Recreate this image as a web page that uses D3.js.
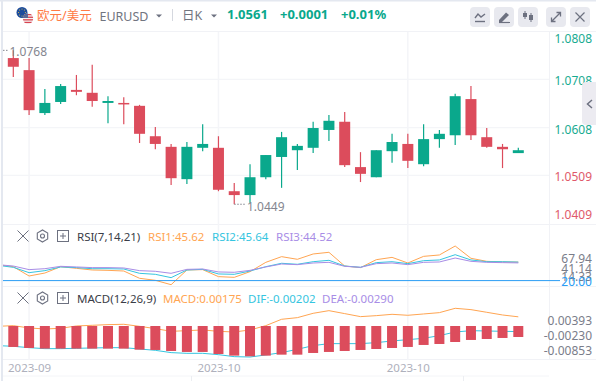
<!DOCTYPE html>
<html>
<head>
<meta charset="utf-8">
<script src="https://cdn.jsdelivr.net/npm/d3@7"></script>
<style>
  html, body { margin: 0; padding: 0; background: #fff; overflow: hidden; }
  text { font-family: "Noto Sans", "Noto Sans CJK SC", sans-serif; }
</style>
</head>
<body>
<div id="chart"></div>
<script>
// daily candles
const open  = [1.0752,1.0727,1.0638,1.0661,1.0686,1.0680,1.0659,1.0659,1.0653,1.0590,1.0568,1.0501,1.0566,1.0566,1.0476,1.0468,1.0505,1.0547,1.0561,1.0566,1.0603,1.0620,1.0526,1.0505,1.0559,1.0574,1.0532,1.0584,1.0592,1.0667,1.0588,1.0568,1.0555];
const close = [1.0734,1.0644,1.0659,1.0694,1.0682,1.0663,1.0663,1.0657,1.0595,1.0574,1.0503,1.0568,1.0574,1.0479,1.0468,1.0505,1.0551,1.0588,1.0570,1.0607,1.0622,1.0530,1.0512,1.0561,1.0578,1.0539,1.0584,1.0595,1.0673,1.0592,1.0568,1.0563,1.0561];
const high  = [1.0768,1.0752,1.0688,1.0698,1.0717,1.0738,1.0673,1.0671,1.0655,1.0609,1.0574,1.0578,1.0615,1.0590,1.0493,1.0532,1.0551,1.0599,1.0574,1.0620,1.0634,1.0640,1.0557,1.0561,1.0595,1.0595,1.0615,1.0603,1.0678,1.0694,1.0607,1.0574,1.0566];
const low   = [1.0713,1.0634,1.0634,1.0657,1.0675,1.0651,1.0617,1.0615,1.0576,1.0563,1.0489,1.0491,1.0559,1.0476,1.0449,1.0452,1.0501,1.0483,1.0520,1.0555,1.0580,1.0526,1.0495,1.0505,1.0535,1.0524,1.0528,1.0566,1.0572,1.0582,1.0566,1.0524,1.0555];

// indicators start one candle earlier (off the left edge)
const rsi1 = [42.1,39.3,26.4,30.5,39.3,37.0,34.7,34.2,33.3,23.2,20.4,14.33,34.7,35.2,25.5,24.5,32.4,45.3,53.2,49.5,56.9,59.2,40.2,38.0,49.0,52.2,44.4,53.6,55.5,67.94,50.9,46.7,45.8,45.62];
const rsi2 = [41.2,38.4,31.0,33.8,38.9,38.0,36.5,36.5,36.1,30.1,28.7,24.1,34.7,35.6,29.2,28.7,33.3,39.3,44.0,42.6,46.2,48.1,40.2,38.4,44.9,46.2,43.5,47.6,48.6,55.9,48.6,46.2,46.2,45.64];
const rsi3 = [42.1,40.2,35.2,36.5,39.8,38.9,38.0,38.0,37.5,33.8,32.9,30.1,35.6,36.1,32.0,31.5,34.2,38.9,43.0,42.1,44.4,45.3,39.8,38.4,43.5,44.4,42.1,45.3,45.8,51.3,46.7,45.3,44.9,44.52];
const macdLine = [-0.00068,-0.00051,-0.00110,-0.00136,-0.00119,-0.00059,-0.00042,-0.00025,-0.00016,-0.00068,-0.00127,-0.00196,-0.00179,-0.00161,-0.00196,-0.00213,-0.00161,-0.00051,0.00112,0.00154,0.00265,0.00333,0.00257,0.00180,0.00205,0.00239,0.00214,0.00248,0.00282,0.00393,0.00359,0.00291,0.00222,0.00175];
const difLine  = [-0.00562,-0.00579,-0.00614,-0.00639,-0.00639,-0.00631,-0.00622,-0.00614,-0.00614,-0.00648,-0.00682,-0.00741,-0.00759,-0.00759,-0.00793,-0.00844,-0.00853,-0.00801,-0.00741,-0.00656,-0.00562,-0.00511,-0.00511,-0.00511,-0.00486,-0.00443,-0.00409,-0.00375,-0.00306,-0.00213,-0.00179,-0.00187,-0.00196,-0.00202];
// bars hang from the pane's baseline, one per candle
const macdBars = [-0.00596,-0.00622,-0.00639,-0.00639,-0.00639,-0.00639,-0.00639,-0.00639,-0.00665,-0.00673,-0.00699,-0.00724,-0.00724,-0.00776,-0.00818,-0.00835,-0.00818,-0.00793,-0.00793,-0.00750,-0.00724,-0.00699,-0.00673,-0.00648,-0.00622,-0.00596,-0.00545,-0.00520,-0.00469,-0.00417,-0.00392,-0.00366,-0.00341];
const macdBase = -0.0006;

const priceTicks = [1.0808,1.0708,1.0608,1.0509,1.0409];
const rsiTicks = ["67.94","41.14","14.33","20.00"];
const macdTicks = ["0.00393","-0.00230","-0.00853"];
const dateTicks = [{i: 1, label: "2023-09"}, {i: 13, label: "2023-10"}, {i: 25, label: "2023-10"}];

const UP = "#0aa88c", DOWN = "#dc4c5c";
const ORANGE = "#ffa552", CYAN = "#35c5e0", PURPLE = "#a88de6", BLUE = "#2a9df4";
const GRID = "#f4f5f8", GREY = "#7a7d8a", ICON = "#6d7180";

const W = 596, H = 381;
const svg = d3.select("#chart").append("svg").attr("width", W).attr("height", H).style("display", "block");

// scales
const x = d3.scaleLinear().domain([0, 32]).range([13.3, 518.3]);
const yPrice = d3.scaleLinear().domain([1.0509, 1.0708]).range([175.3, 79.3]);
const yRsi = d3.scaleLinear().domain([14.33, 67.94]).range([284.7, 246]);
const yMacd = d3.scaleLinear().domain([-0.00853, 0.00393]).range([357, 308.3]);

// frame and grid
svg.append("rect").attr("x", 0).attr("y", 0).attr("width", W).attr("height", 1.5).attr("fill", "#e4e8f0");
svg.append("rect").attr("x", 1).attr("y", 0).attr("width", 2).attr("height", H).attr("fill", "#e4e8f0");
[31.5, 224.5, 286.5, 359.5].forEach(y => {
  svg.append("line").attr("x1", 3).attr("x2", W).attr("y1", y).attr("y2", y).attr("stroke", "#f1f2f6");
});
svg.append("line").attr("x1", 3).attr("x2", 549).attr("y1", 376).attr("y2", 376).attr("stroke", "#f4f5f8");
svg.append("line").attr("x1", 549.5).attr("x2", 549.5).attr("y1", 32).attr("y2", 360).attr("stroke", "#f1f2f6");
svg.append("g").selectAll("line").data(dateTicks).join("line")
  .attr("x1", d => x(d.i)).attr("x2", d => x(d.i)).attr("y1", 32).attr("y2", 360)
  .attr("stroke", GRID).attr("stroke-width", 1.5);
svg.append("g").selectAll("line").data([1.0708, 1.0608, 1.0509]).join("line")
  .attr("x1", 3).attr("x2", 549).attr("y1", d => yPrice(d)).attr("y2", d => yPrice(d))
  .attr("stroke", GRID).attr("stroke-width", 1.2);

// toolbar
const eu = svg.append("g");
eu.append("circle").attr("cx", 22).attr("cy", 12.5).attr("r", 5.5).attr("fill", "#1d4c9c");
d3.range(8).forEach(k => {
  eu.append("circle").attr("cx", 22 + 3.4 * Math.cos(k * Math.PI / 4)).attr("cy", 12.5 + 3.4 * Math.sin(k * Math.PI / 4)).attr("r", 0.5).attr("fill", "#f5d142");
});
svg.append("clipPath").attr("id", "us").append("circle").attr("cx", 28).attr("cy", 18.5).attr("r", 5.2);
const us = svg.append("g").attr("clip-path", "url(#us)");
us.append("rect").attr("x", 22).attr("y", 13).attr("width", 12).attr("height", 11).attr("fill", "#f4f4f4");
d3.range(4).forEach(k => {
  us.append("rect").attr("x", 22).attr("y", 14 + k * 2.6).attr("width", 12).attr("height", 1.3).attr("fill", "#d8434f");
});
us.append("rect").attr("x", 22).attr("y", 13).attr("width", 6).attr("height", 5).attr("fill", "#5a6a96");

function label(txt, px, py, color, size, weight, anchor) {
  return svg.append("text").attr("x", px).attr("y", py).attr("fill", color)
    .attr("font-size", size).attr("font-weight", weight || 400)
    .attr("text-anchor", anchor || "start").text(txt);
}
function caret(cx, cy) {
  svg.append("path").attr("d", `M${cx - 3},${cy - 1.5}L${cx + 3},${cy - 1.5}L${cx},${cy + 1.5}Z`).attr("fill", ICON);
}

label("欧元/美元", 37, 19.5, "#ff7a45", 12.5);
label("EURUSD", 99.5, 20.5, "#71757f", 12.5);
caret(159, 16);
svg.append("line").attr("x1", 172.5).attr("x2", 172.5).attr("y1", 9).attr("y2", 21).attr("stroke", "#d5d8df");
label("日K", 182, 19.5, "#71757f", 12.5);
caret(214, 16);
label("1.0561", 227, 19, UP, 13, 700);
label("+0.0001", 280, 19, UP, 13, 700);
label("+0.01%", 341, 19, UP, 13, 700);

// toolbar buttons
[470, 494, 518, 546, 570].forEach(bx => {
  svg.append("rect").attr("x", bx).attr("y", 7).attr("width", 20).attr("height", 20).attr("rx", 4).attr("fill", "#e8e9ef");
});
svg.append("path").attr("d", "M475,18L478,14L481,17L485,14").attr("fill", "none").attr("stroke", ICON).attr("stroke-width", 1.4);
svg.append("line").attr("x1", 475).attr("x2", 485).attr("y1", 21.5).attr("y2", 21.5).attr("stroke", ICON).attr("stroke-width", 1.4);
svg.append("path").attr("d", "M499,20L506,12.5L509,15L502,22L499,22Z").attr("fill", ICON);
svg.append("line").attr("x1", 499).attr("x2", 510).attr("y1", 22.5).attr("y2", 22.5).attr("stroke", ICON).attr("stroke-width", 1.2);
[[525, 11, 19, 13, 17], [531, 13, 22, 15, 20]].forEach(c => {
  svg.append("line").attr("x1", c[0]).attr("x2", c[0]).attr("y1", c[1]).attr("y2", c[2]).attr("stroke", ICON);
  svg.append("rect").attr("x", c[0] - 2).attr("y", c[3]).attr("width", 4).attr("height", c[4] - c[3]).attr("fill", ICON);
});
svg.append("path").attr("d", "M552,21L560,13M556.5,12.5L560.5,12.5L560.5,16.5M551.5,17.5L551.5,21.5L555.5,21.5").attr("fill", "none").attr("stroke", ICON).attr("stroke-width", 1.3);
svg.append("path").attr("d", "M575.5,12.5L584.5,21.5M584.5,12.5L575.5,21.5").attr("stroke", ICON).attr("stroke-width", 1.2);

// candles
const candles = open.map((o, i) => ({i, o, c: close[i], h: high[i], l: low[i]}));
const candleG = svg.append("g");
candleG.selectAll("line").data(candles).join("line")
  .attr("x1", d => x(d.i)).attr("x2", d => x(d.i))
  .attr("y1", d => yPrice(d.h)).attr("y2", d => yPrice(d.l))
  .attr("stroke", d => d.c >= d.o ? UP : DOWN).attr("stroke-width", 1.2);
candleG.selectAll("rect").data(candles).join("rect")
  .attr("x", d => x(d.i) - 5.5).attr("width", 11)
  .attr("y", d => yPrice(Math.max(d.o, d.c)))
  .attr("height", d => Math.max(1.5, Math.abs(yPrice(d.o) - yPrice(d.c))))
  .attr("fill", d => d.c >= d.o ? UP : DOWN);

// high / low markers
label("1.0768", 9.5, 56, "#84868f", 12);
svg.append("line").attr("x1", 3).attr("x2", 9).attr("y1", yPrice(1.0768)).attr("y2", yPrice(1.0768)).attr("stroke", "#84868f").attr("stroke-dasharray", "1.5,1.5");
label("1.0449", 247, 211, "#84868f", 12);
svg.append("line").attr("x1", x(14)).attr("x2", 245).attr("y1", yPrice(1.0449)).attr("y2", yPrice(1.0449)).attr("stroke", "#84868f").attr("stroke-dasharray", "1.5,1.5");

// price axis, outer labels are pushed into the pane
priceTicks.forEach(t => {
  const py = Math.min(219, Math.max(43, yPrice(t) + 6));
  label(t.toFixed(4), 592, py, t >= 1.06 ? "#18ab91" : "#e0596a", 12, 400, "end");
});

// collapse tab
svg.append("path").attr("d", "M596,82L586,82Q582,82 582,86L582,121Q582,125 586,125L596,125Z").attr("fill", "#ecebf1");
svg.append("path").attr("d", "M592,100L587.5,104L592,108").attr("fill", "none").attr("stroke", ICON).attr("stroke-width", 1.5);

// sub-pane headers
function paneHeader(cy) {
  svg.append("path").attr("d", `M17.5,${cy - 5.5}L28.5,${cy + 5.5}M28.5,${cy - 5.5}L17.5,${cy + 5.5}`).attr("stroke", ICON).attr("stroke-width", 1);
  const hex = d3.range(6).map(k => [42.5 + 6 * Math.sin(k * Math.PI / 3), cy + 6 * Math.cos(k * Math.PI / 3)]);
  svg.append("polygon").attr("points", hex.join(" ")).attr("fill", "none").attr("stroke", ICON).attr("stroke-width", 1.1);
  svg.append("circle").attr("cx", 42.5).attr("cy", cy).attr("r", 2).attr("fill", "none").attr("stroke", ICON).attr("stroke-width", 1.1);
  svg.append("rect").attr("x", 57.5).attr("y", cy - 5.5).attr("width", 11).attr("height", 11).attr("fill", "none").attr("stroke", ICON);
  svg.append("path").attr("d", `M60,${cy}L66,${cy}M63,${cy - 3}L63,${cy + 3}`).attr("stroke", ICON);
}
paneHeader(236);
label("RSI(7,14,21)", 77, 240.5, "#3a3d47", 11.5);
label("RSI1:45.62", 148, 240.5, ORANGE, 11.5);
label("RSI2:45.64", 212, 240.5, CYAN, 11.5);
label("RSI3:44.52", 276, 240.5, PURPLE, 11.5);
paneHeader(298);
label("MACD(12,26,9)", 77, 302.5, "#3a3d47", 11.5);
label("MACD:0.00175", 163, 302.5, ORANGE, 11.5);
label("DIF:-0.00202", 248, 302.5, CYAN, 11.5);
label("DEA:-0.00290", 322, 302.5, PURPLE, 11.5);

// indicator lines, clipped to the plot area
svg.append("clipPath").attr("id", "plot").append("rect").attr("x", 3).attr("y", 224).attr("width", 546).attr("height", 136);
const lineFor = scale => d3.line().x((d, i) => x(i - 1)).y(d => scale(d));
const rsiG = svg.append("g").attr("clip-path", "url(#plot)");
[[rsi1, ORANGE], [rsi2, CYAN], [rsi3, PURPLE]].forEach(s => {
  rsiG.append("path").datum(s[0]).attr("d", lineFor(yRsi)).attr("fill", "none").attr("stroke", s[1]).attr("stroke-width", 1);
});
svg.append("line").attr("x1", 3).attr("x2", 560).attr("y1", yRsi(20)).attr("y2", yRsi(20)).attr("stroke", BLUE).attr("stroke-width", 1);

const macdG = svg.append("g").attr("clip-path", "url(#plot)");
macdG.append("path").datum(macdLine).attr("d", lineFor(yMacd)).attr("fill", "none").attr("stroke", ORANGE).attr("stroke-width", 1);
macdG.append("path").datum(difLine).attr("d", lineFor(yMacd)).attr("fill", "none").attr("stroke", CYAN).attr("stroke-width", 1);
macdG.selectAll("rect").data(macdBars).join("rect")
  .attr("x", (d, i) => x(i) - 5).attr("width", 10)
  .attr("y", yMacd(macdBase)).attr("height", d => yMacd(d) - yMacd(macdBase))
  .attr("fill", DOWN);

// right labels of the sub-panes are stacked by the chart, not on the scale
const rsiLabelY = [262.5, 272.5, 281, 285.5];
rsiTicks.forEach((t, i) => {
  label(t, 592, rsiLabelY[i], i === 3 ? BLUE : GREY, 12, 400, "end");
});
const macdLabelY = [325, 340, 355];
macdTicks.forEach((t, i) => {
  label(t, 592, macdLabelY[i], GREY, 12, 400, "end");
});

// date axis
const dateAxis = d3.axisBottom(x).tickValues(dateTicks.map(d => d.i)).tickSize(0)
  .tickFormat(v => dateTicks.find(d => d.i === v).label);
const axisG = svg.append("g").attr("transform", "translate(0,360)").call(dateAxis);
axisG.select(".domain").remove();
axisG.selectAll("text").attr("fill", "#aeb0bc").attr("font-size", 11.5).attr("font-family", '"Noto Sans", sans-serif').attr("dy", 0).attr("y", 12);
[191.5, 463.5].forEach(tx => {
  svg.append("line").attr("x1", tx).attr("x2", tx).attr("y1", 376).attr("y2", H).attr("stroke", "#eceef2");
});
</script>
</body>
</html>
